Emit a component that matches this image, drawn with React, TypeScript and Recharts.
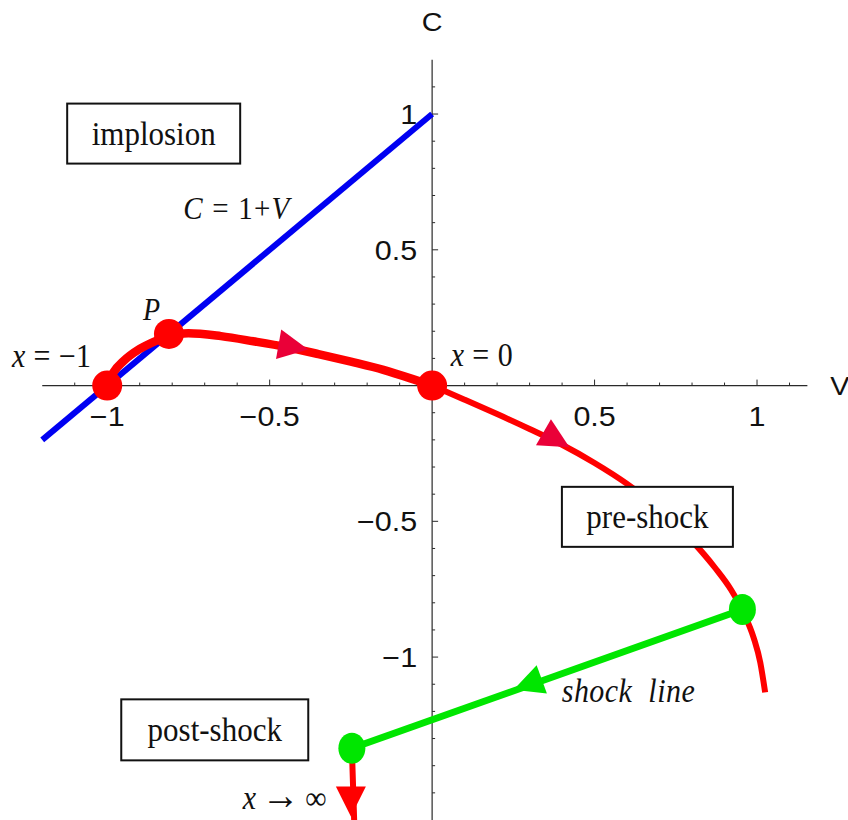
import { ComposedChart, Line, Scatter, XAxis, YAxis } from "recharts";

const WIDTH = 848;
const HEIGHT = 820;
const V_DOMAIN: [number, number] = [-1.33, 1.28];
const C_DOMAIN: [number, number] = [-1.6, 1.42];

// sonic line C = 1 + V
const sonicV = [-1.2, 0];
const sonicC = [-0.2, 1];

// solution from x = -1 through P up to x = 0
const innerV = [-1, -0.98, -0.95, -0.9, -0.85, -0.81, -0.75, -0.65, -0.55, -0.45, -0.35, -0.25, -0.15, -0.05, 0];
const innerC = [0, 0.05, 0.09, 0.135, 0.165, 0.185, 0.193, 0.182, 0.163, 0.142, 0.116, 0.088, 0.058, 0.02, 0];

// pre-shock continuation past x = 0
const outerV = [0, 0.1, 0.2, 0.3, 0.4, 0.5, 0.6, 0.7, 0.8, 0.87, 0.92, 0.96, 0.99, 1.01, 1.025];
const outerC = [0, -0.052, -0.105, -0.16, -0.218, -0.285, -0.362, -0.455, -0.572, -0.67, -0.752, -0.84, -0.93, -1.02, -1.13];

// post-shock branch heading to x -> infinity
const postV = [-0.247, -0.24];
const postC = [-1.336, -1.6];

// shock jump
const shockV = [0.955, -0.247];
const shockC = [-0.825, -1.336];

const redDotV = [-1, -0.81, 0];
const redDotC = [0, 0.19, 0];
const greenDotV = [0.955, -0.247];
const greenDotC = [-0.825, -1.336];

// direction markers: position and heading (degrees, screen space)
const redArrowV = [-0.43, 0.38, -0.25];
const redArrowC = [0.143, -0.198, -1.528];
const redArrowDeg = [10, 30, 90];
const greenArrowV = [0.297];
const greenArrowC = [-1.1];
const greenArrowDeg = [160];

// axes
const hAxisV = [-1.2, 1.155];
const vAxisC = [1.2, -1.6];
const vTicks = [-1.1, -1, -0.9, -0.8, -0.7, -0.6, -0.5, -0.4, -0.3, -0.2, -0.1, 0.1, 0.2, 0.3, 0.4, 0.5, 0.6, 0.7, 0.8, 0.9, 1, 1.1];
const vTickLabels = ["\u22121", "\u22120.5", "0.5", "1"];
const vMajor = [-1, -0.5, 0.5, 1];
const cTicks = [1.1, 1, 0.9, 0.8, 0.7, 0.6, 0.5, 0.4, 0.3, 0.2, 0.1, -0.1, -0.2, -0.3, -0.4, -0.5, -0.6, -0.7, -0.8, -0.9, -1, -1.1, -1.2, -1.3, -1.4, -1.5];
const cTickLabels = ["1", "0.5", "\u22120.5", "\u22121"];
const cMajor = [1, 0.5, -0.5, -1];

const pts = (vs: number[], cs: number[]) => vs.map((v, i) => ({ v, c: cs[i] }));

const SANS = "'Liberation Sans', Arial, sans-serif";
const SERIF = "'Liberation Serif', 'Times New Roman', serif";
const AXIS = "#2a2a2a";
const RED = "#ff0000";
const ARROW_RED = "#ea0038";
const GREEN = "#00e600";
const BLUE = "#0000f2";

// region boxes
const boxes = [
  { v: -0.857, c: 0.928, text: "implosion", w: 173, h: 60 },
  { v: 0.6626, c: -0.4835, text: "pre-shock", w: 171, h: 60 },
  { v: -0.669, c: -1.268, text: "post-shock", w: 187, h: 61 },
];

type Part = { t: string; it?: boolean; big?: boolean };
const notes: { v: number; c: number; parts: Part[]; size: number; span: number }[] = [
  { v: -0.766, c: 0.615, parts: [{ t: "C", it: true }, { t: " = 1+" }, { t: "V", it: true }], size: 29, span: 106 },
  { v: -0.89, c: 0.241, parts: [{ t: "P", it: true }], size: 28, span: 0 },
  { v: -1.293, c: 0.068, parts: [{ t: "x", it: true }, { t: " = \u22121" }], size: 30, span: 79 },
  { v: 0.057, c: 0.072, parts: [{ t: "x", it: true }, { t: " = 0" }], size: 30, span: 62 },
  { v: 0.399, c: -1.167, parts: [{ t: "shock  line", it: true }], size: 30, span: 133 },
  { v: -0.583, c: -1.56, parts: [{ t: "x", it: true }, { t: " " }, { t: "\u2192", big: true }, { t: " \u221e" }], size: 30, span: 84 },
];

const axisNames = [
  { v: 0, c: 1.307, text: "C", anchor: "middle" },
  { v: 1.225, c: -0.035, text: "V", anchor: "start" },
];

const Arrow = ({ cx, cy, deg, fill }: { cx: number; cy: number; deg: number; fill: string }) => (
  <polygon
    points="16,0 -14,-15 -14,15"
    fill={fill}
    transform={`translate(${cx} ${cy}) rotate(${deg})`}
  />
);

const HTick = (p: any) => {
  const { cx, cy, payload } = p;
  const idx = vMajor.indexOf(payload.v);
  return (
    <g>
      <line x1={cx} x2={cx} y1={cy} y2={cy - (idx >= 0 ? 6 : 3)} stroke={AXIS} strokeWidth={1} />
      {idx >= 0 && (
        <text
          transform={`translate(${cx} ${cy + 40}) scale(1.13 1)`}
          textAnchor="middle"
          fontFamily={SANS}
          fontSize={27}
          fill="#111"
        >
          {vTickLabels[idx]}
        </text>
      )}
    </g>
  );
};

const VTick = (p: any) => {
  const { cx, cy, payload } = p;
  const idx = cMajor.indexOf(payload.c);
  return (
    <g>
      <line x1={cx} x2={cx + (idx >= 0 ? 6 : 3)} y1={cy} y2={cy} stroke={AXIS} strokeWidth={1} />
      {idx >= 0 && (
        <text
          transform={`translate(${cx - 15} ${cy + 10}) scale(1.13 1)`}
          textAnchor="end"
          fontFamily={SANS}
          fontSize={27}
          fill="#111"
        >
          {cTickLabels[idx]}
        </text>
      )}
    </g>
  );
};

export default function App() {
  return (
    <div style={{ position: "absolute", left: 0, top: 0, background: "#fff" }}>
      <ComposedChart width={WIDTH} height={HEIGHT} margin={{ top: 0, right: 0, bottom: 0, left: 0 }}>
        <XAxis type="number" dataKey="v" domain={V_DOMAIN} allowDataOverflow hide />
        <YAxis type="number" dataKey="c" domain={C_DOMAIN} allowDataOverflow hide />

        <Line data={pts(hAxisV, [0, 0])} dataKey="c" type="linear" stroke={AXIS} strokeWidth={1.2} dot={false} activeDot={false} isAnimationActive={false} />
        <Line data={pts([0, 0], vAxisC)} dataKey="c" type="linear" stroke={AXIS} strokeWidth={1.2} dot={false} activeDot={false} isAnimationActive={false} />

        <Line data={pts(sonicV, sonicC)} dataKey="c" type="linear" stroke={BLUE} strokeWidth={6} dot={false} activeDot={false} isAnimationActive={false} />
        <Line data={pts(innerV, innerC)} dataKey="c" type="monotone" stroke={RED} strokeWidth={8.5} dot={false} activeDot={false} isAnimationActive={false} />
        <Line data={pts(outerV, outerC)} dataKey="c" type="monotone" stroke={RED} strokeWidth={6} dot={false} activeDot={false} isAnimationActive={false} />
        <Line data={pts(postV, postC)} dataKey="c" type="linear" stroke={RED} strokeWidth={6} dot={false} activeDot={false} isAnimationActive={false} />
        <Line data={pts(shockV, shockC)} dataKey="c" type="linear" stroke={GREEN} strokeWidth={7} dot={false} activeDot={false} isAnimationActive={false} />

        <Scatter data={vTicks.map((v) => ({ v, c: 0 }))} dataKey="c" shape={HTick} isAnimationActive={false} />
        <Scatter data={cTicks.map((c) => ({ v: 0, c }))} dataKey="c" shape={VTick} isAnimationActive={false} />

        <Scatter
          data={boxes}
          dataKey="c"
          isAnimationActive={false}
          shape={(p: any) => {
            const b = p.payload;
            return (
              <g>
                <rect x={p.cx - b.w / 2} y={p.cy - b.h / 2} width={b.w} height={b.h} fill="#fff" stroke="#111" strokeWidth={2} />
                <text
                  transform={`translate(${p.cx} ${p.cy + 11}) scale(1 1.1)`}
                  textAnchor="middle"
                  fontFamily={SERIF}
                  fontSize={31}
                  fill="#111"
                >
                  {b.text}
                </text>
              </g>
            );
          }}
        />

        <Scatter
          data={pts(redDotV, redDotC)}
          dataKey="c"
          isAnimationActive={false}
          shape={(p: any) => <circle cx={p.cx} cy={p.cy} r={15} fill={RED} />}
        />
        <Scatter
          data={pts(greenDotV, greenDotC)}
          dataKey="c"
          isAnimationActive={false}
          shape={(p: any) => <ellipse cx={p.cx} cy={p.cy} rx={13.5} ry={15.5} fill={GREEN} />}
        />
        <Scatter
          data={redArrowV.map((v, i) => ({ v, c: redArrowC[i], deg: redArrowDeg[i] }))}
          dataKey="c"
          isAnimationActive={false}
          shape={(p: any) => <Arrow cx={p.cx} cy={p.cy} deg={p.payload.deg} fill={p.payload.deg === 90 ? RED : ARROW_RED} />}
        />
        <Scatter
          data={greenArrowV.map((v, i) => ({ v, c: greenArrowC[i], deg: greenArrowDeg[i] }))}
          dataKey="c"
          isAnimationActive={false}
          shape={(p: any) => <Arrow cx={p.cx} cy={p.cy} deg={p.payload.deg} fill={GREEN} />}
        />

        <Scatter
          data={notes}
          dataKey="c"
          isAnimationActive={false}
          shape={(p: any) => {
            const n = p.payload;
            return (
              <text
                transform={`translate(${p.cx} ${p.cy}) scale(1 1.1)`}
                fontFamily={SERIF}
                fontSize={n.size}
                fill="#111"
                textLength={n.span || undefined}
                lengthAdjust="spacing"
                style={{ whiteSpace: "pre" }}
              >
                {n.parts.map((part: Part, i: number) => (
                  <tspan key={i} fontStyle={part.it ? "italic" : "normal"} fontSize={part.big ? 38 : undefined}>
                    {part.t}
                  </tspan>
                ))}
              </text>
            );
          }}
        />
        <Scatter
          data={axisNames}
          dataKey="c"
          isAnimationActive={false}
          shape={(p: any) => (
            <text
              transform={`translate(${p.cx} ${p.cy}) scale(1.15 1)`}
              textAnchor={p.payload.anchor}
              fontFamily={SANS}
              fontSize={25}
              fill="#111"
            >
              {p.payload.text}
            </text>
          )}
        />
      </ComposedChart>
    </div>
  );
}
